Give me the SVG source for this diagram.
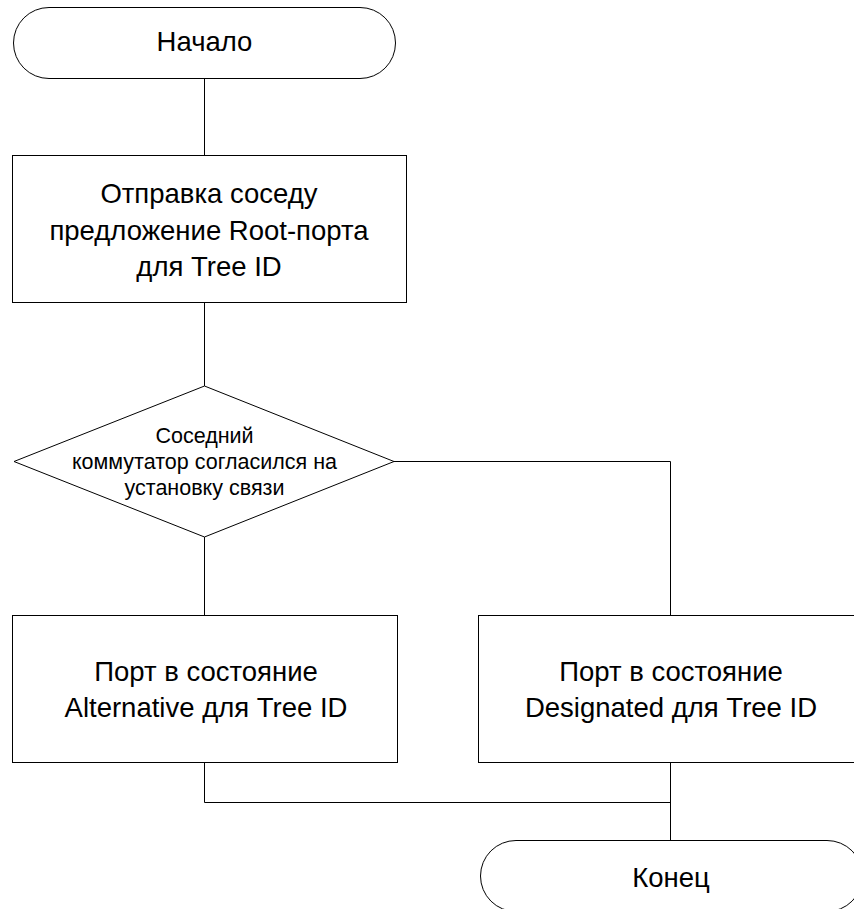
<svg xmlns="http://www.w3.org/2000/svg" width="854" height="909" viewBox="0 0 854 909">
  <style>
    .shape { fill: #fff; stroke: #000; stroke-width: 1; }
    .wire { fill: none; stroke: #000; stroke-width: 1; }
    .t { font-family: "Liberation Sans", Arial, sans-serif; font-size: 27.5px; fill: #000; text-anchor: middle; }
    .s { font-family: "Liberation Sans", Arial, sans-serif; font-size: 21.5px; fill: #000; text-anchor: middle; }
  </style>
  <rect width="854" height="909" fill="#fff"/>
  <g id="connectors">
    <path class="wire" d="M204.5 78 V155"/>
    <path class="wire" d="M204.5 302 V386"/>
    <path class="wire" d="M204.5 537 V615"/>
    <path class="wire" d="M394 461.5 H670.5 V615"/>
    <path class="wire" d="M204.5 762 V802.5 H670.5"/>
    <path class="wire" d="M670.5 762 V840"/>
  </g>
  <g id="start">
    <rect class="shape" x="13.5" y="7.5" width="382" height="71" rx="35.5"/>
    <text class="t" x="204.5" y="51">Начало</text>
  </g>
  <g id="send-proposal">
    <rect class="shape" x="12.5" y="155.5" width="394" height="147"/>
    <text class="t" x="209" y="203">Отправка соседу</text>
    <text class="t" x="209" y="240">предложение Root-порта</text>
    <text class="t" x="209" y="276">для Tree ID</text>
  </g>
  <g id="neighbor-agreed">
    <polygon class="shape" points="204.5,386 394,461.5 204.5,537 14,461.5"/>
    <text class="s" x="204.5" y="443">Соседний</text>
    <text class="s" x="204.5" y="469">коммутатор согласился на</text>
    <text class="s" x="204.5" y="495">установку связи</text>
  </g>
  <g id="alternative">
    <rect class="shape" x="12.5" y="615.5" width="385" height="147"/>
    <text class="t" x="206" y="681">Порт в состояние</text>
    <text class="t" x="206" y="717">Alternative для Tree ID</text>
  </g>
  <g id="designated">
    <rect class="shape" x="478.5" y="615.5" width="385" height="147"/>
    <text class="t" x="671" y="681">Порт в состояние</text>
    <text class="t" x="671" y="717">Designated для Tree ID</text>
  </g>
  <g id="end">
    <rect class="shape" x="480.5" y="840.5" width="382" height="71" rx="35.5"/>
    <text class="t" x="671" y="887">Конец</text>
  </g>
</svg>
